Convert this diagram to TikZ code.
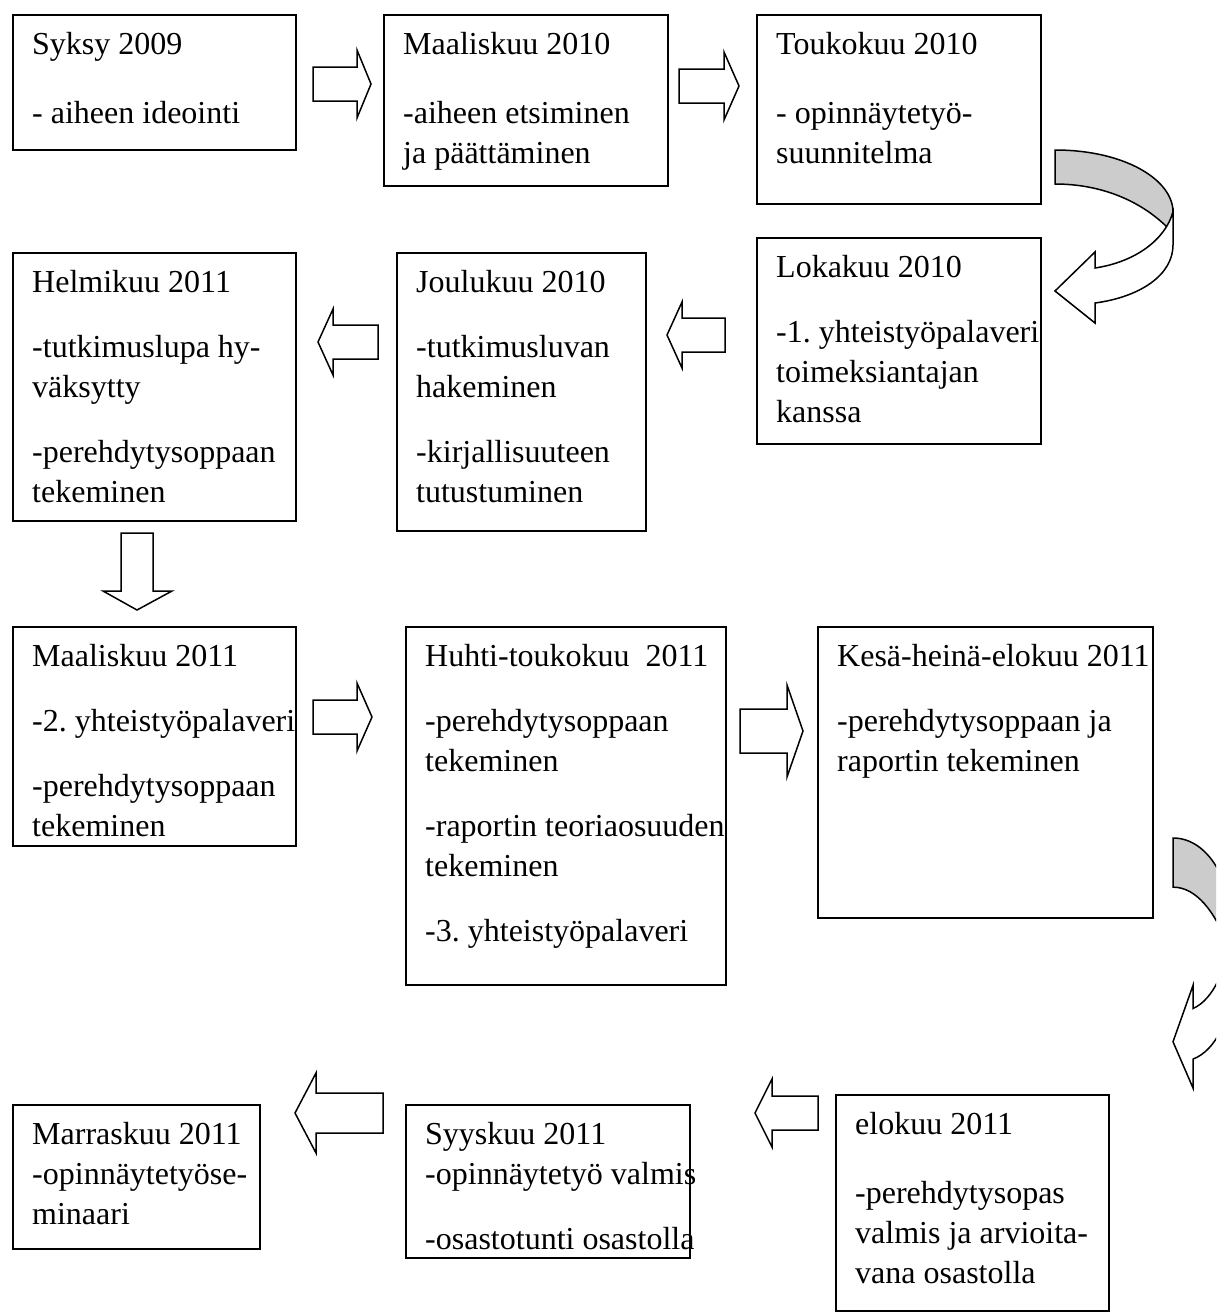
\documentclass[tikz,border=0pt]{standalone}
\usepackage{fontspec}
\setmainfont{Liberation Serif}
\tikzset{
  box/.style={draw=black, line width=1.5pt, rectangle, inner sep=0pt, anchor=north west},
  txt/.style={anchor=north west, inner sep=0pt, align=left, font=\fontsize{32}{40}\selectfont\frenchspacing},
  blockarrow/.style={draw=black, line width=1.5pt, fill=white, line join=miter},
  backband/.style={draw=black, line width=1.5pt, fill=black!20},
}
% block arrow: #1 shaft start x, #2 head base x, #3 tip x, #4 centre y, #5 shaft half, #6 head half
\newcommand\blockarr[6]{%
  \draw[blockarrow] (#1,#4-#5) -- (#2,#4-#5) -- (#2,#4-#6) -- (#3,#4) -- (#2,#4+#6) -- (#2,#4+#5) -- (#1,#4+#5) -- cycle;}
% box: #1 name, #2 x1, #3 y1, #4 x2, #5 y2
\newcommand\mybox[5]{%
  \node[box, minimum width={#4-#2}, minimum height={#5-#3}] (#1) at (#2,#3) {};}
\newcommand\curvedshape{%
  \draw[backband] (0,0) .. controls (70,0) and (118,30) .. (118,62) -- (113,78)
     .. controls (85,50) and (45,34) .. (0,34) -- cycle;
  \draw[blockarrow] (118,62) .. controls (110,90) and (80,112) .. (40,118) -- (40,102) -- (0,141)
     -- (40,173) -- (40,153) .. controls (85,147) and (118,125) .. (118,95) -- cycle;}
\begin{document}
\begin{tikzpicture}[x=1pt,y=-1pt]
\useasboundingbox (0,0) rectangle (1216,1312);
\clip (0,0) rectangle (1216,1312);
\fill[white] (0,0) rectangle (1216,1312);

% boxes
\mybox{A}{12}{14}{295}{149}
\mybox{B}{383}{14}{667}{185}
\mybox{C}{756}{14}{1040}{203}
\mybox{D}{12}{252}{295}{520}
\mybox{E}{396}{252}{645}{530}
\mybox{F}{756}{237}{1040}{443}
\mybox{G}{12}{626}{295}{845}
\mybox{H}{405}{626}{725}{984}
\mybox{I}{817}{626}{1152}{917}
\mybox{J}{12}{1104}{259}{1248}
\mybox{K}{405}{1104}{689}{1257}
\mybox{L}{835}{1094}{1108}{1310}

% texts
\node[txt] (At) at (32,26) {\strut Syksy 2009\\[29pt]- aiheen ideointi};
\node[txt] (Bt) at (403,26) {\strut Maaliskuu 2010\\[29pt]-aiheen etsiminen\\ja päättäminen};
\node[txt] (Ct) at (776,26) {\strut Toukokuu 2010\\[29pt]- opinnäytetyö-\\suunnitelma};
\node[txt] (Ft) at (776,249) {\strut Lokakuu 2010\\[25pt]-1. yhteistyöpalaveri\\toimeksiantajan\\kanssa};
\node[txt] (Et) at (416,264) {\strut Joulukuu 2010\\[25pt]-tutkimusluvan\\hakeminen\\[25pt]-kirjallisuuteen\\tutustuminen};
\node[txt] (Dt) at (32,264) {\strut Helmikuu 2011\\[25pt]-tutkimuslupa hy-\\väksytty\\[25pt]-perehdytysoppaan\\tekeminen};
\node[txt] (Gt) at (32,638) {\strut Maaliskuu 2011\\[25pt]-2. yhteistyöpalaveri\\[25pt]-perehdytysoppaan\\tekeminen};
\node[txt] (Ht) at (425,638) {\strut Huhti-toukokuu\ \ 2011\\[25pt]-perehdytysoppaan\\tekeminen\\[25pt]-raportin teoriaosuuden\\tekeminen\\[25pt]-3. yhteistyöpalaveri};
\node[txt] (It) at (837,638) {\strut Kesä-heinä-elokuu 2011\\[25pt]-perehdytysoppaan ja\\raportin tekeminen};
\node[txt] (Lt) at (855,1106) {\strut elokuu 2011\\[29pt]-perehdytysopas\\valmis ja arvioita-\\vana osastolla};
\node[txt] (Kt) at (425,1116) {\strut Syyskuu 2011\\-opinnäytetyö valmis\\[25pt]-osastotunti osastolla};
\node[txt] (Jt) at (32,1116) {\strut Marraskuu 2011\\-opinnäytetyöse-\\minaari};

% block arrows
\blockarr{313}{357}{371}{84}{17}{34}
\blockarr{679}{724}{739}{86}{17}{34}
\blockarr{725}{682}{667}{335}{17}{33}
\blockarr{378}{333}{318}{342}{17}{33}
\blockarr{313}{357}{372}{717}{17}{34}
\blockarr{740}{787}{803}{731}{22}{46}
\blockarr{383}{316}{295}{1113}{20}{40}
\blockarr{818}{772}{755}{1113}{17}{34}
% down arrow
\draw[blockarrow] (121,533) -- (153,533) -- (153,591) -- (172,591) -- (137,610) -- (103,591) -- (121,591) -- cycle;

% curved arrows
\begin{scope}[shift={(1055,150)}]
  \curvedshape
\end{scope}
\begin{scope}[shift={(1173,838)}, xscale=0.5, yscale=1.445]
  \curvedshape
\end{scope}
\end{tikzpicture}
\end{document}
